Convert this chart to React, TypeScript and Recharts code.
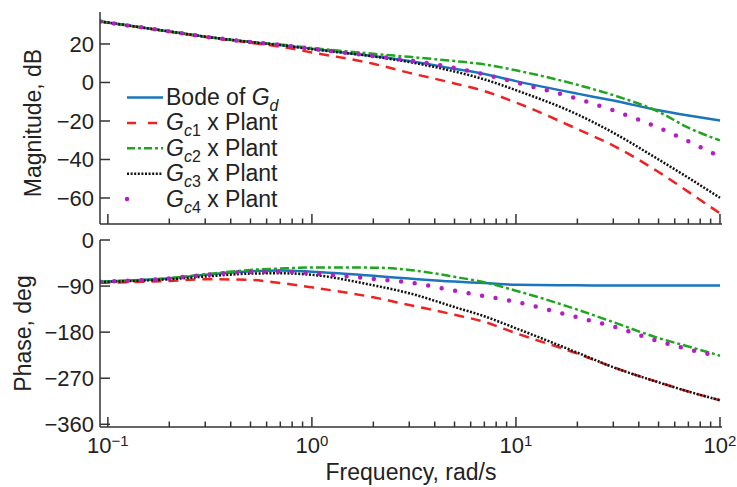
import React from 'react';
import { LineChart, Line, XAxis, YAxis, Legend } from 'recharts';

// frequency points, rad/s
const freq = [0.092, 0.2, 0.3, 0.5, 0.7, 1, 2, 3, 5, 7, 10, 20, 30, 50, 70, 100];

// magnitude, dB
const magGd = [31.7, 26.5, 23.8, 21, 19.5, 17.5, 13.7, 11.1, 7.1, 4.4, 0.7, -5.8, -9.4, -14.4, -17.1, -19.7];
const magGc1 = [31.7, 26.4, 23.6, 20.6, 18.6, 15.6, 9.7, 5.0, -0.5, -4.5, -10.4, -24.2, -32.8, -46.5, -56.8, -68];
const magGc2 = [31.7, 26.5, 23.8, 21.1, 19.7, 17.9, 14.9, 13.3, 11.1, 9.4, 6.3, -1.2, -6.6, -15.2, -23.5, -30.1];
const magGc3 = [31.7, 26.5, 23.8, 21, 19.4, 17.3, 13.5, 10.6, 5.7, 1.6, -4.0, -16.6, -26.1, -40, -49.5, -59.9];
const magGc4 = [31.7, 26.5, 23.8, 21, 19.5, 17.5, 13.7, 11.4, 7.6, 4.2, 0.0, -8.5, -14.5, -23.5, -30.6, -38.6];

// phase, deg
const phGd = [-81.5, -74.8, -68, -61, -59.5, -62, -70, -75.4, -81.3, -84, -87.5, -88.5, -89, -89, -89, -89];
const phGc1 = [-83.5, -80, -76.5, -78, -84, -92.5, -112, -127, -146, -160, -182, -222, -248.5, -278, -296, -313];
const phGc2 = [-81.5, -74.5, -67, -58.5, -55.7, -53.8, -54, -58.4, -72, -82.6, -99, -136, -160.5, -191.5, -208, -226];
const phGc3 = [-82, -76.7, -71.4, -65.6, -65, -68, -88.5, -104, -131, -149, -172.5, -220, -248.5, -278, -296, -313];
const phGc4 = [-81.5, -75, -68, -62.3, -62, -65, -76, -83, -99, -109.5, -121, -151, -169, -198, -213.4, -228];

// axis ticks
const majorTicks = [0.1, 1, 10, 100];
const tickExponents = ['\u22121', '0', '1', '2'];
const minorTicks = [0.2, 0.3, 0.4, 0.5, 0.6, 0.7, 0.8, 0.9, 2, 3, 4, 5, 6, 7, 8, 9, 20, 30, 40, 50, 60, 70, 80, 90];
const magTicks = [20, 0, -20, -40, -60];
const phaseTicks = [0, -90, -180, -270, -360];

const magData = freq.map((f, i) => ({ f, gd: magGd[i], gc1: magGc1[i], gc2: magGc2[i], gc3: magGc3[i], gc4: magGc4[i] }));
const phaseData = freq.map((f, i) => ({ f, gd: phGd[i], gc1: phGc1[i], gc2: phGc2[i], gc3: phGc3[i], gc4: phGc4[i] }));

const series = [
  { key: 'gd', sub: 'd', color: '#1a75bc', dash: undefined, width: 2.5, cap: 'butt', legendDash: undefined },
  { key: 'gc1', sub: 'c1', color: '#ee2222', dash: '10 7', width: 2.5, cap: 'butt', legendDash: '9 12' },
  { key: 'gc2', sub: 'c2', color: '#1fa51f', dash: '9 3 3 3', width: 2.5, cap: 'butt', legendDash: '8 3 3 3' },
  { key: 'gc3', sub: 'c3', color: '#111111', dash: '2 1.6', width: 2.5, cap: 'butt', legendDash: '2 1.6' },
  { key: 'gc4', sub: 'c4', color: '#b31ec4', dash: '0 13.7', width: 4.5, cap: 'round', legendDash: '0 36' },
];

const axisColor = '#333';
const textColor = '#222';
const fontFamily = '"Liberation Sans", Arial, sans-serif';
const allXTicks = [...majorTicks, ...minorTicks].sort((a, b) => a - b);

const XTick = (props: any) => {
  const { x, y, payload, showLabel } = props;
  const idx = majorTicks.indexOf(payload.value);
  const major = idx >= 0;
  return (
    <g>
      <line x1={x} x2={x} y1={y} y2={y - (major ? 10 : 5.5)} stroke={axisColor} strokeWidth={1.5} />
      {showLabel && major && (
        <text x={x} y={y + 26} textAnchor="middle" fontSize={22} fill={textColor} fontFamily={fontFamily}>
          10<tspan dy={-7} fontSize={15}>{tickExponents[idx]}</tspan>
        </text>
      )}
    </g>
  );
};

const YTick = (props: any) => {
  const { x, y, payload } = props;
  const label = String(payload.value).replace('-', '\u2212');
  return (
    <g>
      <line x1={x} x2={x + 10} y1={y} y2={y} stroke={axisColor} strokeWidth={1.5} />
      <text x={x - 6} y={y} dy="0.36em" textAnchor="end" fontSize={22} fill={textColor} fontFamily={fontFamily}>
        {label}
      </text>
    </g>
  );
};

const LegendBox = () => (
  <svg width={230} height={135} style={{ display: 'block' }}>
    {series.map((s, i) => {
      const cy = 15.5 + i * 25.4;
      return (
        <g key={s.key}>
          <line x1={7} x2={43} y1={cy} y2={cy} stroke={s.color} strokeWidth={s.width}
            strokeDasharray={s.legendDash} strokeLinecap={s.cap as any} />
          <text x={46} y={cy + 7.5} fontSize={23} fill={textColor} fontFamily={fontFamily}>
            {s.key === 'gd' ? 'Bode of ' : ''}
            <tspan fontStyle="italic">G</tspan>
            <tspan dy={6} fontSize={16} fontStyle="italic">{s.sub[0]}</tspan>
            {s.sub.length > 1 && <tspan fontSize={16}>{s.sub.slice(1)}</tspan>}
            {s.key !== 'gd' && <tspan dy={-6}> x Plant</tspan>}
          </text>
        </g>
      );
    })}
  </svg>
);

const yTitle = (text: string, dyCenter: number | undefined, cx: number) => (props: any) => {
  const { viewBox } = props;
  const cy = viewBox.y + (dyCenter ?? viewBox.height / 2);
  return (
    <text x={cx} y={cy} transform={`rotate(-90 ${cx} ${cy})`} textAnchor="middle" dy="0.36em"
      fontSize={23} fill={textColor} fontFamily={fontFamily}>
      {text}
    </text>
  );
};

const renderLines = () =>
  series.map((s) => (
    <Line key={s.key} dataKey={s.key} type="monotone" stroke={s.color} strokeWidth={s.width}
      strokeDasharray={s.dash} strokeLinecap={s.cap as any} dot={false} activeDot={false}
      isAnimationActive={false} />
  ));

export default function App() {
  return (
    <div style={{ position: 'absolute', left: 0, top: 0, width: 737, height: 487, background: '#fff', fontFamily }}>
      <div style={{ position: 'absolute', left: 0, top: 0 }}>
        <LineChart width={737} height={232} data={magData} margin={{ top: 12, right: 15, bottom: 0, left: 0 }}>
          <XAxis dataKey="f" type="number" scale="log" domain={[0.0915, 102.3]} allowDataOverflow
            ticks={allXTicks} interval={0} height={8} tickSize={0} tickMargin={0} tickLine={false}
            axisLine={{ stroke: axisColor, strokeWidth: 1.5 }} tick={(p: any) => <XTick {...p} showLabel={false} />} />
          <YAxis type="number" domain={[-73.5, 36.6]} ticks={magTicks} interval={0} width={100}
            tickSize={0} tickMargin={0} tickLine={false} axisLine={{ stroke: axisColor, strokeWidth: 1.5 }}
            tick={(p: any) => <YTick {...p} />}
            label={{ content: yTitle('Magnitude, dB', 111, 33) }} />
          <Legend layout="vertical" verticalAlign="middle" align="center"
            wrapperStyle={{ left: 120, top: 82, width: 230, height: 135 }} content={() => <LegendBox />} />
          {renderLines()}
        </LineChart>
      </div>
      <div style={{ position: 'absolute', left: 0, top: 222 }}>
        <LineChart width={737} height={265} data={phaseData} margin={{ top: 18, right: 15, bottom: 0, left: 0 }}>
          <XAxis dataKey="f" type="number" scale="log" domain={[0.0915, 102.3]} allowDataOverflow
            ticks={allXTicks} interval={0} height={60} tickSize={0} tickMargin={0} tickLine={false}
            axisLine={{ stroke: axisColor, strokeWidth: 1.5 }} tick={(p: any) => <XTick {...p} showLabel />}
            label={{
              content: (props: any) => {
                const { viewBox } = props;
                return (
                  <text x={viewBox.x + viewBox.width / 2} y={viewBox.y + 53} textAnchor="middle"
                    fontSize={23} fill={textColor} fontFamily={fontFamily}>
                    Frequency, rad/s
                  </text>
                );
              },
            }} />
          <YAxis type="number" domain={[-365.3, 0]} ticks={phaseTicks} interval={0} width={100}
            tickSize={0} tickMargin={0} tickLine={false} axisLine={{ stroke: axisColor, strokeWidth: 1.5 }}
            tick={(p: any) => <YTick {...p} />}
            label={{ content: yTitle('Phase, deg', undefined, 23) }} />
          {renderLines()}
        </LineChart>
      </div>
    </div>
  );
}
